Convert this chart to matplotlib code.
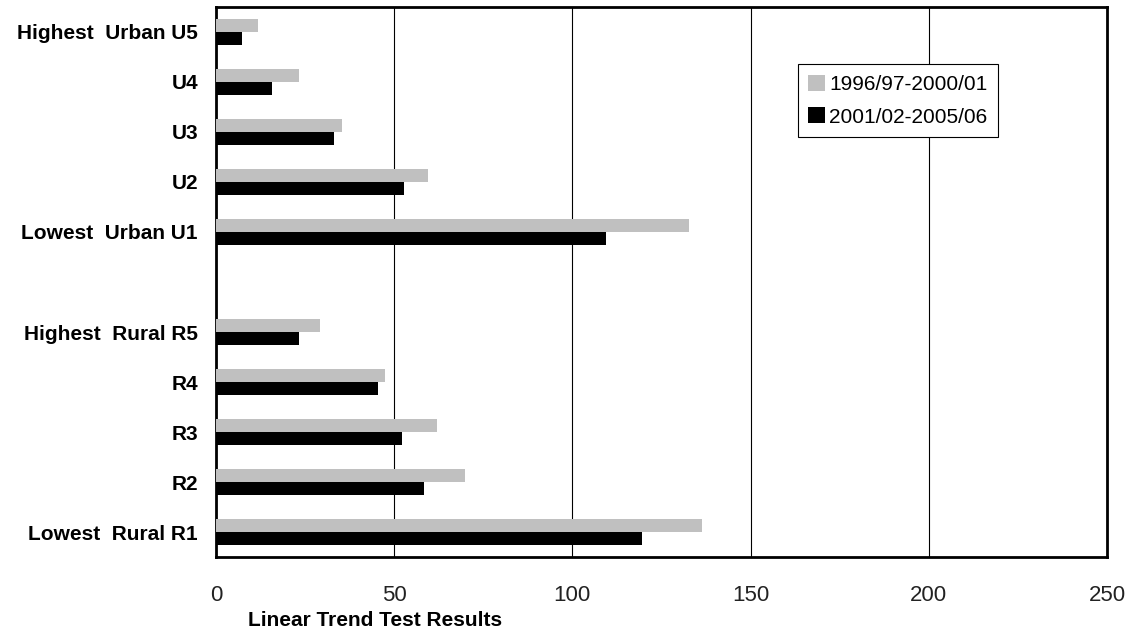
import numpy as np
import matplotlib
matplotlib.use('Agg')
import matplotlib.pyplot as plt

# Data (top to bottom, blank slot between urban and rural)
labels = ['Highest  Urban U5', 'U4', 'U3', 'U2', 'Lowest  Urban U1', '',
          'Highest  Rural R5', 'R4', 'R3', 'R2', 'Lowest  Rural R1']
period_1 = [11.8, 23.3, 35.4, 59.5, 132.8, np.nan, 29.2, 47.4, 62.0, 69.9, 136.4]
period_2 = [7.3, 15.7, 33.1, 52.8, 109.5, np.nan, 23.3, 45.5, 52.2, 58.4, 119.6]
series_names = ['1996/97-2000/01', '2001/02-2005/06']
xticks = [0, 50, 100, 150, 200, 250]

plt.rcParams['font.family'] = ['Liberation Sans', 'DejaVu Sans']

fig = plt.figure(figsize=(11.33, 6.33), dpi=100)
ax = fig.add_axes([0.1906, 0.120, 0.7864, 0.869])

y = np.arange(len(labels))
h = 0.26
ax.barh(y - h / 2, period_1, height=h, color='#c0c0c0', label=series_names[0], zorder=3)
ax.barh(y + h / 2, period_2, height=h, color='black', label=series_names[1], zorder=3)

ax.set_xlim(0, 250)
ax.set_ylim(len(labels) - 0.5, -0.5)
ax.set_xticks(xticks)
ax.set_xticklabels([str(t) for t in xticks], fontsize=16, color='#222222')
ax.set_yticks(y)
ax.set_yticklabels(labels, fontsize=15, fontweight='bold')
ax.tick_params(axis='both', length=0)
ax.tick_params(axis='x', pad=20)
ax.tick_params(axis='y', pad=13)
ax.grid(axis='x', color='black', linewidth=0.8, zorder=0)

for s in ax.spines.values():
    s.set_linewidth(2)
    s.set_color('black')

fig.text(0.331, 0.019, 'Linear Trend Test Results', fontsize=15, fontweight='bold',
         ha='center', va='center')

leg = ax.legend(loc='upper left', bbox_to_anchor=(0.653, 0.896), fontsize=15,
                frameon=True, fancybox=False, framealpha=1, edgecolor='black',
                handlelength=0.8, handleheight=0.8, handletextpad=0.2,
                borderpad=0.5, labelspacing=0.65, borderaxespad=0)
leg.get_frame().set_linewidth(0.8)

fig.savefig('out.png', dpi=100)
